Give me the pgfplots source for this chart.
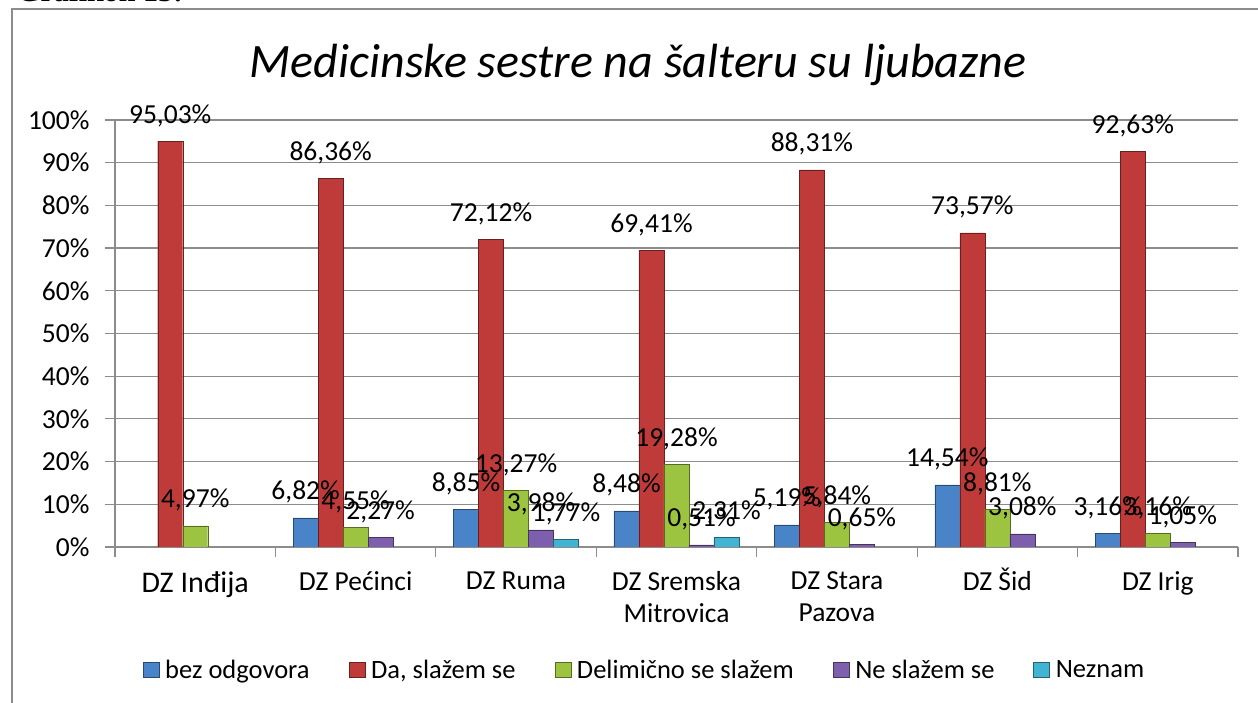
\documentclass[border=0pt]{standalone}
\usepackage{fontspec}
\setmainfont{Carlito}
\newfontfamily\serifbold{Liberation Serif}
\usepackage{pgfplots}
\pgfplotsset{compat=1.18}
\definecolor{cblue}{HTML}{4A84C8}
\definecolor{cred}{HTML}{BF3B3A}
\definecolor{cgreen}{HTML}{9CC440}
\definecolor{cpurple}{HTML}{7E5FAE}
\definecolor{ccyan}{HTML}{40B4D2}
\definecolor{axgray}{HTML}{8C8C8C}
\begin{document}
\begin{tikzpicture}[x=1bp,y=1bp]
\useasboundingbox (0,0) rectangle (1258,703);
\node[anchor=base west, inner sep=0pt, font=\serifbold\bfseries\fontsize{30bp}{36bp}\selectfont] at (17,701) {Grafikon 15:};
\draw[axgray, line width=1.2bp] (12,0) -- (12,694) -- (1258,694);
\node[anchor=base, inner sep=0pt, font=\itshape\fontsize{48bp}{54bp}\selectfont] at (638,625) {Medicinske sestre na šalteru su ljubazne};
\begin{axis}[
  at={(115bp,156bp)}, anchor=south west,
  scale only axis, width=1123bp, height=427bp,
  xmin=-0.5, xmax=6.5, ymin=0, ymax=100,
  ybar=0pt, bar width=25bp,
  axis lines*=left,
  axis line style={-, draw=axgray, line width=1.2bp},
  tick align=outside, major tick length=10bp, minor tick length=10bp,
  tick style={draw=axgray, line width=1.2bp},
  ytick={0,10,...,100},
  /pgf/number format/assume math mode=true,
  /pgf/number format/use comma,
  yticklabel={\pgfmathprintnumber[fixed,precision=0]{\tick}\%},
  yticklabel style={font=\fontsize{27.5bp}{31bp}\selectfont, xshift=-12bp},
  ymajorgrids, grid style={draw=axgray, line width=1.2bp},
  xtick={0,...,6},
  major x tick style={draw=none},
  minor xtick={-0.5,0.5,...,6.5},
  xticklabels={{\fontsize{30bp}{34bp}\selectfont DZ Inđija}, DZ Pećinci, DZ Ruma, DZ Sremska\\Mitrovica, DZ Stara\\Pazova, DZ \smash{Š}id, DZ Irig},
  xticklabel style={font=\fontsize{27.5bp}{32bp}\selectfont, align=center, yshift=-11bp},
  nodes near coords={\pgfmathprintnumber[fixed,fixed zerofill,precision=2,use comma]{\pgfplotspointmeta}\%},
  every node near coord/.append style={font=\fontsize{27.5bp}{31bp}\selectfont, text=black, anchor=base, inner sep=0pt, yshift=18bp},
  legend columns=5,
  legend style={at={(0.4706,-0.288)}, anchor=center, draw=none, font=\fontsize{26.5bp}{30bp}\selectfont,
    nodes={inner sep=0pt},
    /tikz/every odd column/.append style={column sep=6bp},
    /tikz/every even column/.append style={column sep=39bp}},
  legend image code/.code={\draw[#1] (0bp,-7.5bp) rectangle (16bp,7.5bp);},
]
\addplot[fill=cblue, draw=cblue!55!black] coordinates {(1,6.82)(2,8.85)(3,8.48)(4,5.19)(5,14.54)(6,3.16)};
\addplot[fill=cred, draw=cred!55!black] coordinates {(0,95.03)(1,86.36)(2,72.12)(3,69.41)(4,88.31)(5,73.57)(6,92.63)};
\addplot[fill=cgreen, draw=cgreen!55!black] coordinates {(0,4.97)(1,4.55)(2,13.27)(3,19.28)(4,5.84)(5,8.81)(6,3.16)};
\addplot[fill=cpurple, draw=cpurple!55!black] coordinates {(1,2.27)(2,3.98)(3,0.51)(4,0.65)(5,3.08)(6,1.05)};
\addplot[fill=ccyan, draw=ccyan!55!black] coordinates {(2,1.77)(3,2.31)};
\legend{bez odgovora, {Da, slažem se}, Delimično se slažem, Ne slažem se, Neznam}
\end{axis}
\end{tikzpicture}
\end{document}
